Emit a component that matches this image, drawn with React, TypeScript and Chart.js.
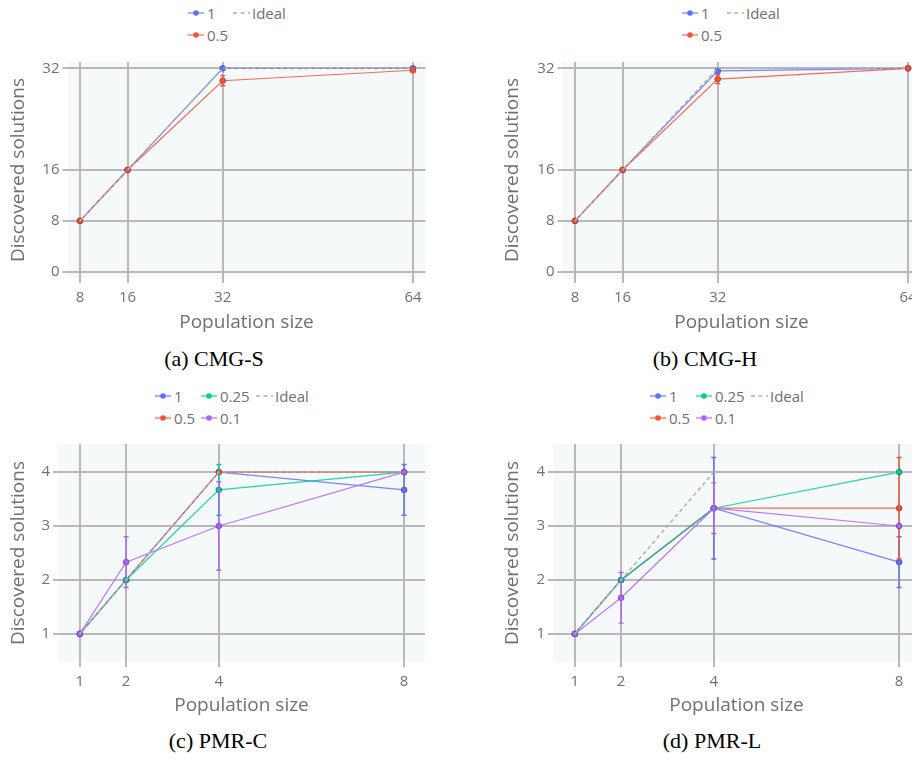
import React, { useEffect, useRef } from "react";
import { Chart, registerables } from "chart.js";

Chart.register(...registerables);

// ---------- data ----------
const CMG_X = [8, 16, 32, 64];
const CMG_Y_TICKS = [0, 8, 16, 32];
const PMR_X = [1, 2, 4, 8];
const PMR_Y_TICKS = [1, 2, 3, 4];

const CMGS_1 = [8, 16, 32, 32];
const CMGS_1_ERR = [0, 0, 0, 0];
const CMGS_05 = [8, 16, 30.05, 31.7];
const CMGS_05_ERR = [0, 0, 0.8, 0.36];
const CMGS_IDEAL = [8, 16, 32, 32];

const CMGH_1 = [8, 16, 31.6, 32];
const CMGH_1_ERR = [0, 0, 0.35, 0];
const CMGH_05 = [8, 16, 30.3, 32];
const CMGH_05_ERR = [0, 0, 0.7, 0];
const CMGH_IDEAL = [8, 16, 32, 32];

const PMRC_1 = [1, 2, 4, 3.67];
const PMRC_1_ERR = [0, 0, 0, 0.47];
const PMRC_05 = [1, 2, 4, 4];
const PMRC_05_ERR = [0, 0, 0, 0];
const PMRC_025 = [1, 2, 3.67, 4];
const PMRC_025_ERR = [0, 0, 0.47, 0];
const PMRC_01 = [1, 2.33, 3, 4];
const PMRC_01_ERR = [0, 0.47, 0.82, 0];
const PMRC_IDEAL = [1, 2, 4, 4];

const PMRL_1 = [1, 2, 3.33, 2.33];
const PMRL_1_ERR = [0, 0, 0.94, 0.47];
const PMRL_05 = [1, 2, 3.33, 3.33];
const PMRL_05_ERR = [0, 0, 0, 0.94];
const PMRL_025 = [1, 2, 3.33, 4];
const PMRL_025_ERR = [0, 0, 0, 0];
const PMRL_01 = [1, 1.67, 3.33, 3];
const PMRL_01_ERR = [0, 0.47, 0.47, 0];
const PMRL_IDEAL = [1, 2, 4, 4];

// ---------- styles ----------
const BLUE = "#636efa";
const RED = "#ef553b";
const GREEN = "#00cc96";
const PURPLE = "#ab63fa";
const IDEAL = "#b0b0b0";
const TEXT = "#707070";
const GRID = "#b9b9b9";
const PLOT_BG = "#f6f9fa";
const FONT = "'Open Sans', 'Noto Sans', sans-serif";

function hexA(hex: string, a: number) {
  const n = parseInt(hex.slice(1), 16);
  return `rgba(${(n >> 16) & 255},${(n >> 8) & 255},${n & 255},${a})`;
}
function darker(hex: string, f: number) {
  const n = parseInt(hex.slice(1), 16);
  const r = Math.round(((n >> 16) & 255) * f);
  const g = Math.round(((n >> 8) & 255) * f);
  const b = Math.round((n & 255) * f);
  return `rgb(${r},${g},${b})`;
}

type Series = { label: string; data: number[]; err?: number[]; color: string; ideal?: boolean };

const bgPlugin = {
  id: "plotBg",
  beforeDraw(chart: any) {
    const { ctx, chartArea } = chart;
    ctx.save();
    ctx.fillStyle = PLOT_BG;
    ctx.fillRect(chartArea.left, chartArea.top, chartArea.right - chartArea.left, chartArea.bottom - chartArea.top);
    ctx.restore();
  },
};

const errPlugin = {
  id: "errBars",
  afterDatasetDraw(chart: any, args: any) {
    const ds = chart.data.datasets[args.index];
    const errs: number[] | undefined = ds.errors;
    if (!errs) return;
    const xs = chart.scales.x;
    const ys = chart.scales.y;
    const ctx = chart.ctx;
    ctx.save();
    ctx.strokeStyle = ds.errColor;
    ctx.lineWidth = 1.4;
    ds.data.forEach((p: any, i: number) => {
      const e = errs[i];
      if (!e) return;
      const px = xs.getPixelForValue(p.x);
      const y1 = ys.getPixelForValue(p.y - e);
      const y2 = ys.getPixelForValue(p.y + e);
      ctx.beginPath();
      ctx.moveTo(px, y1);
      ctx.lineTo(px, y2);
      ctx.moveTo(px - 2.5, y1);
      ctx.lineTo(px + 2.5, y1);
      ctx.moveTo(px - 2.5, y2);
      ctx.lineTo(px + 2.5, y2);
      ctx.stroke();
    });
    ctx.restore();
  },
};

type PanelProps = {
  left: number;
  top: number;
  width: number;
  height: number;
  plot: [number, number, number, number];
  xs: number[];
  xTicks: number[];
  yTicks: number[];
  xRange: [number, number];
  yRange: [number, number];
  series: Series[];
  yTitleX: number;
  xTitleY: number;
};

function Panel(p: PanelProps) {
  const ref = useRef<HTMLCanvasElement>(null);
  useEffect(() => {
    const [pl, pt, pr, pb] = p.plot;
    const titleSize = 19;
    const lh = titleSize * 1.2;
    const datasets = p.series.map((s, i) => ({
      label: s.label,
      data: p.xs.map((x, j) => ({ x, y: s.data[j] })),
      borderColor: s.ideal ? IDEAL : hexA(s.color, 0.85),
      backgroundColor: s.color,
      pointBackgroundColor: s.color,
      pointBorderColor: darker(s.color, 0.75),
      pointBorderWidth: 1,
      pointRadius: s.ideal ? 0 : 2.8,
      borderWidth: s.ideal ? 1.5 : 1.2,
      borderDash: s.ideal ? [4, 3] : [],
      tension: 0,
      fill: false,
      order: -i,
      errors: s.err,
      errColor: s.color,
    }));
    const chart = new Chart(ref.current!, {
      type: "line",
      data: { datasets } as any,
      plugins: [bgPlugin, errPlugin],
      options: {
        animation: false,
        responsive: false,
        devicePixelRatio: 1,
        layout: {
          autoPadding: false,
          padding: { left: 0, top: pt - p.top, right: p.left + p.width - pr, bottom: 0 },
        },
        plugins: { legend: { display: false }, tooltip: { enabled: false } },
        scales: {
          x: {
            type: "linear",
            position: "bottom",
            min: p.xRange[0],
            max: p.xRange[1],
            afterBuildTicks: (s: any) => {
              s.ticks = p.xTicks.map((v) => ({ value: v }));
            },
            afterFit: (s: any) => {
              s.height = p.top + p.height - pb;
              s.paddingLeft = 0;
              s.paddingRight = 0;
            },
            grid: { color: GRID, lineWidth: 2, drawTicks: true, tickLength: 5 },
            border: { display: false },
            ticks: {
              color: TEXT,
              font: { family: FONT, size: 15 },
              padding: 6,
              maxRotation: 0,
              autoSkip: false,
              callback: (v: any) => String(v),
            },
            title: {
              display: true,
              text: "Population size",
              color: TEXT,
              font: { family: FONT, size: titleSize },
              padding: { top: 0, bottom: p.top + p.height - p.xTitleY - lh / 2 },
            },
          },
          y: {
            type: "linear",
            position: "left",
            min: p.yRange[0],
            max: p.yRange[1],
            afterBuildTicks: (s: any) => {
              s.ticks = p.yTicks.map((v) => ({ value: v }));
            },
            afterFit: (s: any) => {
              s.width = pl - p.left;
              s.paddingTop = 0;
              s.paddingBottom = 0;
            },
            grid: { color: GRID, lineWidth: 2, drawTicks: true, tickLength: 5 },
            border: { display: false },
            ticks: {
              color: TEXT,
              font: { family: FONT, size: 15 },
              padding: 3,
              autoSkip: false,
              callback: (v: any) => String(v),
            },
            title: {
              display: true,
              text: "Discovered solutions",
              color: TEXT,
              font: { family: FONT, size: titleSize },
              padding: { top: p.yTitleX - p.left - lh / 2, bottom: 0 },
            },
          },
        },
      } as any,
    });
    return () => chart.destroy();
  }, []);
  return (
    <canvas
      ref={ref}
      width={p.width}
      height={p.height}
      style={{ position: "absolute", left: p.left, top: p.top, width: p.width, height: p.height }}
    />
  );
}

type LegendItem = { label: string; color: string; ideal?: boolean; x: number; y: number; thick?: boolean };

function Legend({ items }: { items: LegendItem[] }) {
  return (
    <>
      {items.map((it, i) => (
        <div
          key={i}
          style={{
            position: "absolute",
            left: it.x,
            top: it.y - 11,
            height: 22,
            display: "flex",
            alignItems: "center",
            fontFamily: FONT,
            fontSize: 15,
            color: TEXT,
            whiteSpace: "nowrap",
          }}
        >
          <svg width={17} height={22} style={{ marginRight: 2, display: "block" }}>
            {it.ideal ? (
              <line x1={0} y1={11} x2={17} y2={11} stroke={IDEAL} strokeWidth={1.5} strokeDasharray="4 3.5" />
            ) : (
              <>
                <line
                  x1={0}
                  y1={11}
                  x2={16}
                  y2={11}
                  stroke={hexA(it.color, it.thick ? 0.55 : 0.85)}
                  strokeWidth={it.thick ? 2.2 : 1.2}
                />
                <circle cx={8} cy={11} r={2.8} fill={it.color} />
              </>
            )}
          </svg>
          <span>{it.label}</span>
        </div>
      ))}
    </>
  );
}

function Caption({ text, cx, cy }: { text: string; cx: number; cy: number }) {
  return (
    <div
      style={{
        position: "absolute",
        left: cx - 150,
        width: 300,
        top: cy - 14,
        height: 28,
        lineHeight: "28px",
        textAlign: "center",
        fontFamily: "'Liberation Serif', 'Times New Roman', serif",
        fontSize: 22,
        color: "#000",
      }}
    >
      {text}
    </div>
  );
}

export default function App() {
  const cmgX: [number, number] = [5.9, 66.1];
  const cmgY: [number, number] = [-1, 33];
  const pmrX: [number, number] = [0.53, 8.45];
  const pmrY: [number, number] = [0.48, 4.52];

  const seriesA: Series[] = [
    { label: "1", data: CMGS_1, err: CMGS_1_ERR, color: BLUE },
    { label: "0.5", data: CMGS_05, err: CMGS_05_ERR, color: RED },
    { label: "Ideal", data: CMGS_IDEAL, color: IDEAL, ideal: true },
  ];
  const seriesB: Series[] = [
    { label: "1", data: CMGH_1, err: CMGH_1_ERR, color: BLUE },
    { label: "0.5", data: CMGH_05, err: CMGH_05_ERR, color: RED },
    { label: "Ideal", data: CMGH_IDEAL, color: IDEAL, ideal: true },
  ];
  const seriesC: Series[] = [
    { label: "1", data: PMRC_1, err: PMRC_1_ERR, color: BLUE },
    { label: "0.5", data: PMRC_05, err: PMRC_05_ERR, color: RED },
    { label: "0.25", data: PMRC_025, err: PMRC_025_ERR, color: GREEN },
    { label: "0.1", data: PMRC_01, err: PMRC_01_ERR, color: PURPLE },
    { label: "Ideal", data: PMRC_IDEAL, color: IDEAL, ideal: true },
  ];
  const seriesD: Series[] = [
    { label: "1", data: PMRL_1, err: PMRL_1_ERR, color: BLUE },
    { label: "0.5", data: PMRL_05, err: PMRL_05_ERR, color: RED },
    { label: "0.25", data: PMRL_025, err: PMRL_025_ERR, color: GREEN },
    { label: "0.1", data: PMRL_01, err: PMRL_01_ERR, color: PURPLE },
    { label: "Ideal", data: PMRL_IDEAL, color: IDEAL, ideal: true },
  ];

  const legendTop = (x1: number, x2: number): LegendItem[] => [
    { label: "1", color: BLUE, x: x1, y: 13 },
    { label: "Ideal", color: IDEAL, ideal: true, x: x2, y: 13 },
    { label: "0.5", color: RED, x: x1, y: 35 },
  ];
  const legendBottom = (x1: number, x2: number, x3: number): LegendItem[] => [
    { label: "1", color: BLUE, x: x1, y: 396, thick: true },
    { label: "0.25", color: GREEN, x: x2, y: 396, thick: true },
    { label: "Ideal", color: IDEAL, ideal: true, x: x3, y: 396 },
    { label: "0.5", color: RED, x: x1, y: 418, thick: true },
    { label: "0.1", color: PURPLE, x: x2, y: 418, thick: true },
  ];

  return (
    <div
      style={{
        position: "fixed",
        left: 0,
        top: 0,
        width: 912,
        height: 759,
        overflow: "hidden",
        background: "#fff",
      }}
    >
      <Panel
        left={0}
        top={50}
        width={456}
        height={295}
        plot={[67.5, 62, 425.5, 278]}
        xs={CMG_X}
        xTicks={CMG_X}
        yTicks={CMG_Y_TICKS}
        xRange={cmgX}
        yRange={cmgY}
        series={seriesA}
        yTitleX={19}
        xTitleY={323}
      />
      <Panel
        left={456}
        top={50}
        width={474}
        height={295}
        plot={[562.5, 62, 920.5, 278]}
        xs={CMG_X}
        xTicks={CMG_X}
        yTicks={CMG_Y_TICKS}
        xRange={cmgX}
        yRange={cmgY}
        series={seriesB}
        yTitleX={513}
        xTitleY={323}
      />
      <Panel
        left={0}
        top={432}
        width={456}
        height={292}
        plot={[58, 444, 425, 662]}
        xs={PMR_X}
        xTicks={PMR_X}
        yTicks={PMR_Y_TICKS}
        xRange={pmrX}
        yRange={pmrY}
        series={seriesC}
        yTitleX={19}
        xTitleY={706}
      />
      <Panel
        left={456}
        top={432}
        width={474}
        height={292}
        plot={[553, 444, 920, 662]}
        xs={PMR_X}
        xTicks={PMR_X}
        yTicks={PMR_Y_TICKS}
        xRange={pmrX}
        yRange={pmrY}
        series={seriesD}
        yTitleX={513}
        xTitleY={706}
      />
      <Legend items={legendTop(188, 233)} />
      <Legend items={legendTop(682, 727)} />
      <Legend items={legendBottom(155, 201, 256)} />
      <Legend items={legendBottom(650, 696, 751)} />
      <Caption text="(a) CMG-S" cx={214} cy={359} />
      <Caption text="(b) CMG-H" cx={705} cy={359} />
      <Caption text="(c) PMR-C" cx={218} cy={741} />
      <Caption text="(d) PMR-L" cx={712} cy={741} />
    </div>
  );
}
